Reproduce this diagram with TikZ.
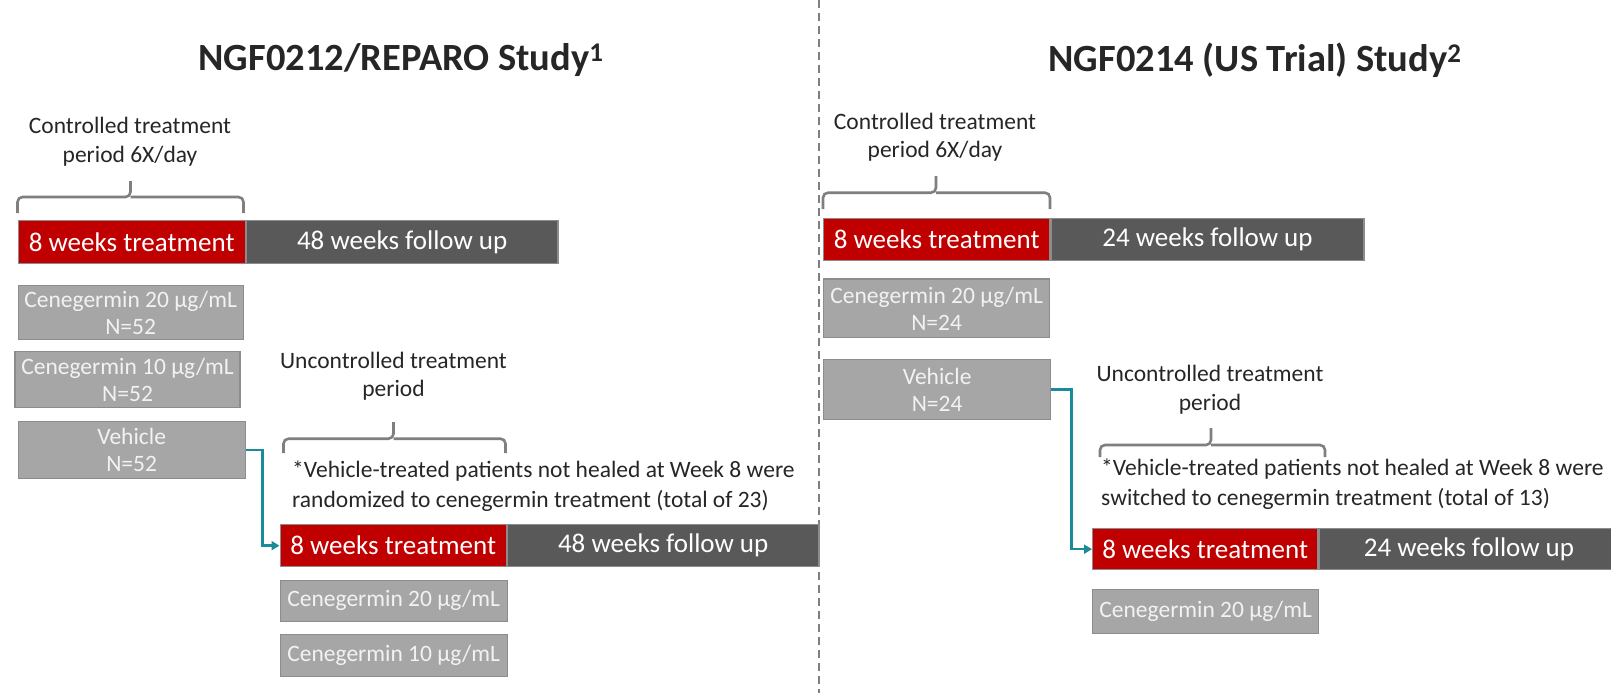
\documentclass[tikz,border=0pt]{standalone}
\usepackage{fontspec}
\setmainfont{Carlito}
\usetikzlibrary{arrows.meta,calc}
\definecolor{redfill}{HTML}{C00000}
\definecolor{darkfill}{HTML}{595959}
\definecolor{lightfill}{HTML}{A6A6A6}
\definecolor{boxline}{HTML}{8C8C8C}
\definecolor{tealc}{HTML}{1A8C99}
\definecolor{txt}{HTML}{262626}
\definecolor{bracec}{HTML}{7F7F7F}
\begin{document}
\begin{tikzpicture}[x=1pt,y=-1pt,
  basebox/.style={draw=boxline, line width=1.3pt, anchor=north west, inner sep=0pt, text=white, align=center},
  tbox/.style={basebox, fill=redfill, font=\fontsize{27}{32}\selectfont},
  fbox/.style={basebox, fill=darkfill, font=\fontsize{27}{32}\selectfont},
  gbox/.style={basebox, fill=lightfill, text=white!95!black, font=\fontsize{23.5}{27}\selectfont},
  lbl/.style={text=txt, align=center, inner sep=0pt, font=\fontsize{23.5}{28.5}\selectfont},
  fnote/.style={text=txt, align=left, anchor=west, inner sep=0pt, font=\fontsize{23.5}{30.5}\selectfont},
  ttl/.style={text=txt, inner sep=0pt, font=\fontsize{38.5}{46}\selectfont\bfseries},
  brc/.style={draw=bracec, line width=2.6pt, rounded corners=5pt},
  conn/.style={draw=tealc, line width=2.5pt, -{Triangle[length=8pt,width=9pt]}},
  sep/.style={draw=bracec, line width=1.3pt, dash pattern=on 8pt off 5pt}
]
\useasboundingbox (0,0) rectangle (1611,693);
\fill[white] (0,0) rectangle (1611,693);

% separator
\draw[sep] (819,0) -- (819,693);

% ---------------- Left study ----------------
\node[ttl] (t1) at (401,60) {NGF0212/REPARO Study\textsuperscript{1}};
\node[lbl] (c1) at (130,141.5) {Controlled treatment\\period 6X/day};
\node[tbox, minimum width=227pt, minimum height=43pt] (r1) at (17.5,220) {8 weeks treatment};
\node[fbox, minimum width=311.5pt, minimum height=43pt] (f1) at (r1.north east) {48 weeks follow up};
\node[gbox, minimum width=225pt, minimum height=54.5pt] (a1) at (17.5,284.6) {Cenegermin 20 µg/mL\\N=52};
\node[gbox, minimum width=225pt, minimum height=56pt] (b1) at (14.4,351) {Cenegermin 10 µg/mL\\N=52};
\node[gbox, minimum width=227pt, minimum height=57pt] (v1) at (17.5,421) {Vehicle\\N=52};
\node[lbl] (u1) at (393.5,376) {Uncontrolled treatment\\period};
\node[fnote] (n1) at (292,486) {*Vehicle-treated patients not healed at Week 8 were\\randomized to cenegermin treatment (total of 23)};
\node[tbox, minimum width=226pt, minimum height=42pt] (r2) at (279.5,524) {8 weeks treatment};
\node[fbox, minimum width=311.5pt, minimum height=42pt] (f2) at (r2.north east) {48 weeks follow up};
\node[gbox, minimum width=227pt, minimum height=41pt] (a2) at (279.5,579.5) {Cenegermin 20 µg/mL};
\node[gbox, minimum width=227pt, minimum height=42pt] (b2) at (279.5,634) {Cenegermin 10 µg/mL};

% braces
\draw[brc] (17.5,213) |- (130.5,197) -- (130.5,181);
\draw[brc] (243.5,213) |- (130.5,197);
\draw[brc] (283.5,453) |- (393.5,438.7) -- (393.5,422);
\draw[brc] (505.5,453) |- (393.5,438.7);

% connector
\coordinate (m1) at ($(v1.east)!0.5!(r2.west)$);
\draw[conn] (v1.east) -- (v1.east -| m1) -- (m1 |- r2.west) -- (r2.west);

% ---------------- Right study ----------------
\node[ttl] (t2) at (1255,60) {NGF0214 (US Trial) Study\textsuperscript{2}};
\node[lbl] (c3) at (935,137) {Controlled treatment\\period 6X/day};
\node[tbox, minimum width=226pt, minimum height=42pt] (r3) at (823,218) {8 weeks treatment};
\node[fbox, minimum width=313pt, minimum height=42pt] (f3) at (r3.north east) {24 weeks follow up};
\node[gbox, minimum width=226pt, minimum height=58.6pt] (a3) at (823,278.4) {Cenegermin 20 µg/mL\\N=24};
\node[gbox, minimum width=227pt, minimum height=60.5pt] (v3) at (823,358.5) {Vehicle\\N=24};
\node[lbl] (u3) at (1210,389.5) {Uncontrolled treatment\\period};
\node[fnote] (n3) at (1101,484) {*Vehicle-treated patients not healed at Week 8 were\\switched to cenegermin treatment (total of 13)};
\node[tbox, minimum width=225pt, minimum height=41pt] (r4) at (1092,528) {8 weeks treatment};
\node[fbox, minimum width=300pt, minimum height=41pt] (f4) at (r4.north east) {24 weeks follow up};
\node[gbox, minimum width=226pt, minimum height=44pt] (a4) at (1092,589) {Cenegermin 20 µg/mL};

% braces
\draw[brc] (823,209) |- (936,192.7) -- (936,176);
\draw[brc] (1050,209) |- (936,192.7);
\draw[brc] (1100,457) |- (1211,445) -- (1211,428);
\draw[brc] (1325,457) |- (1211,445);

% connector
\coordinate (m3) at ($(v3.east)!0.5!(r4.west)$);
\draw[conn] (v3.east) -- (v3.east -| m3) -- (m3 |- r4.west) -- (r4.west);
\end{tikzpicture}
\end{document}
